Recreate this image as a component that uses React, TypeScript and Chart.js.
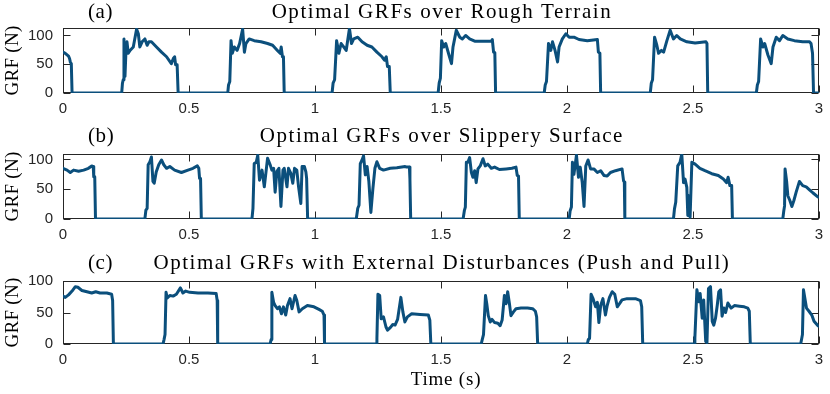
import React, { useEffect, useRef } from 'react';
import { Chart, registerables } from 'chart.js';

Chart.register(...registerables);

// ---------- data ----------
const timeA = [0, 0.009, 0.022, 0.026, 0.029, 0.033, 0.036, 0.233, 0.236, 0.239, 0.242, 0.246, 0.25, 0.254, 0.259, 0.266, 0.279, 0.292, 0.299, 0.305, 0.314, 0.325, 0.334, 0.341, 0.351, 0.371, 0.391, 0.411, 0.43, 0.438, 0.443, 0.447, 0.453, 0.457,
  0.654, 0.657, 0.662, 0.667, 0.672, 0.68, 0.691, 0.701, 0.713, 0.72, 0.726, 0.739, 0.759, 0.786, 0.812, 0.832, 0.851, 0.862, 0.866, 0.871, 0.875, 0.878,
  1.068, 1.072, 1.078, 1.086, 1.095, 1.104, 1.114, 1.124, 1.137, 1.145, 1.154, 1.17, 1.187, 1.207, 1.226, 1.246, 1.266, 1.276, 1.283, 1.288, 1.295, 1.299,
  1.489, 1.493, 1.498, 1.503, 1.511, 1.519, 1.532, 1.542, 1.548, 1.553, 1.561, 1.568, 1.575, 1.585, 1.598, 1.614, 1.634, 1.667, 1.7, 1.704, 1.709, 1.714, 1.717,
  1.91, 1.914, 1.919, 1.927, 1.936, 1.943, 1.953, 1.963, 1.969, 1.982, 1.996, 2.009, 2.028, 2.048, 2.081, 2.121, 2.125, 2.131, 2.134,
  2.331, 2.335, 2.34, 2.348, 2.357, 2.364, 2.375, 2.384, 2.397, 2.41, 2.423, 2.436, 2.45, 2.476, 2.509, 2.552, 2.556, 2.559,
  2.752, 2.756, 2.761, 2.769, 2.778, 2.785, 2.798, 2.811, 2.818, 2.831, 2.844, 2.857, 2.877, 2.903, 2.936, 2.963, 2.969, 2.975, 2.979, 3.0];
const grfA = [71, 69, 64, 60, 54, 51, 0, 0, 17, 23, 94, 29, 74, 89, 69, 74, 80, 111, 103, 80, 89, 94, 83, 89, 89, 80, 71, 63, 51, 60, 63, 49, 49, 0,
  0, 14, 20, 91, 69, 80, 74, 86, 111, 71, 86, 94, 91, 89, 86, 83, 74, 69, 80, 63, 63, 0,
  0, 17, 23, 91, 69, 86, 80, 74, 112, 86, 94, 97, 89, 83, 80, 71, 63, 57, 63, 46, 46, 0,
  0, 17, 26, 91, 80, 86, 66, 51, 80, 91, 109, 103, 97, 94, 100, 94, 90, 90, 90, 93, 71, 70, 0,
  0, 14, 20, 86, 74, 89, 74, 54, 80, 94, 103, 97, 97, 93, 91, 93, 71, 69, 0,
  0, 17, 23, 97, 83, 69, 74, 71, 91, 109, 94, 100, 94, 89, 87, 89, 86, 0,
  0, 14, 20, 94, 80, 86, 66, 51, 80, 97, 91, 100, 94, 91, 89, 89, 86, 69, 0, 0];

const timeB = [0, 0.016, 0.029, 0.042, 0.062, 0.082, 0.101, 0.114, 0.12, 0.122, 0.126, 0.129,
  0.325, 0.329, 0.334, 0.338, 0.345, 0.351, 0.357, 0.362, 0.37, 0.38, 0.391, 0.4, 0.411, 0.424, 0.443, 0.47, 0.496, 0.516, 0.533, 0.539, 0.542, 0.546, 0.549,
  0.75, 0.754, 0.759, 0.767, 0.773, 0.78, 0.79, 0.799, 0.812, 0.823, 0.829, 0.836, 0.842, 0.849, 0.857, 0.865, 0.873, 0.878, 0.889, 0.895, 0.904, 0.912, 0.919, 0.928, 0.935, 0.944, 0.949, 0.958, 0.964, 0.967, 0.971,
  1.164, 1.17, 1.175, 1.18, 1.187, 1.193, 1.2, 1.207, 1.214, 1.222, 1.23, 1.238, 1.246, 1.257, 1.272, 1.299, 1.325, 1.358, 1.364, 1.375, 1.377, 1.38,
  1.588, 1.593, 1.597, 1.601, 1.607, 1.614, 1.621, 1.627, 1.634, 1.64, 1.647, 1.656, 1.667, 1.676, 1.686, 1.7, 1.713, 1.732, 1.759, 1.782, 1.798, 1.803, 1.808, 1.811,
  2.009, 2.013, 2.018, 2.022, 2.028, 2.038, 2.046, 2.053, 2.061, 2.068, 2.075, 2.084, 2.094, 2.107, 2.121, 2.134, 2.147, 2.16, 2.173, 2.193, 2.219, 2.225, 2.228, 2.23,
  2.423, 2.427, 2.432, 2.44, 2.449, 2.456, 2.463, 2.469, 2.476, 2.48, 2.484, 2.489, 2.496, 2.509, 2.528, 2.548, 2.575, 2.601, 2.621, 2.634, 2.64, 2.647, 2.654, 2.657,
  2.857, 2.861, 2.864, 2.866, 2.872, 2.877, 2.885, 2.893, 2.901, 2.91, 2.923, 2.936, 2.95, 2.963, 2.976, 2.996, 3.0];
const grfB = [85, 82, 78, 82, 80, 82, 85, 89, 88, 71, 71, 0,
  0, 15, 18, 91, 96, 104, 63, 60, 79, 91, 99, 91, 85, 88, 82, 78, 82, 85, 89, 85, 68, 68, 0,
  0, 18, 93, 95, 107, 65, 82, 54, 102, 90, 82, 85, 45, 80, 85, 21, 82, 85, 54, 85, 77, 60, 85, 82, 54, 26, 88, 88, 79, 68, 0,
  0, 18, 23, 93, 99, 106, 74, 88, 63, 11, 51, 85, 96, 85, 82, 85, 86, 88, 87, 87, 67, 0,
  0, 14, 20, 95, 95, 103, 78, 70, 81, 61, 84, 89, 101, 89, 92, 85, 87, 83, 84, 85, 87, 73, 72, 0,
  0, 14, 20, 95, 75, 107, 70, 87, 61, 21, 89, 99, 84, 84, 78, 81, 73, 72, 78, 81, 84, 64, 62, 0,
  0, 17, 28, 89, 95, 109, 61, 67, 53, 6, 39, 3, 95, 92, 85, 81, 76, 73, 67, 61, 70, 56, 56, 0,
  0, 14, 22, 84, 64, 39, 31, 21, 31, 45, 63, 56, 54, 49, 44, 37, 37];

const timeC = [0, 0.009, 0.022, 0.036, 0.049, 0.059, 0.075, 0.095, 0.114, 0.13, 0.147, 0.174, 0.193, 0.197, 0.2,
  0.397, 0.401, 0.405, 0.409, 0.414, 0.424, 0.437, 0.45, 0.466, 0.476, 0.487, 0.503, 0.536, 0.575, 0.608, 0.612, 0.614,
  0.822, 0.826, 0.829, 0.836, 0.842, 0.851, 0.859, 0.867, 0.875, 0.884, 0.891, 0.901, 0.909, 0.921, 0.928, 0.937, 0.95, 0.97, 0.996, 1.016, 1.029, 1.036, 1.038,
  1.243, 1.246, 1.25, 1.257, 1.263, 1.272, 1.282, 1.288, 1.299, 1.309, 1.318, 1.328, 1.341, 1.349, 1.357, 1.367, 1.384, 1.417, 1.45, 1.456, 1.46,
  1.66, 1.664, 1.669, 1.677, 1.682, 1.688, 1.696, 1.703, 1.713, 1.726, 1.735, 1.743, 1.752, 1.759, 1.765, 1.772, 1.778, 1.788, 1.798, 1.818, 1.844, 1.864, 1.875, 1.88, 1.884,
  2.081, 2.085, 2.09, 2.096, 2.103, 2.114, 2.121, 2.127, 2.134, 2.143, 2.153, 2.16, 2.169, 2.18, 2.19, 2.2, 2.209, 2.219, 2.239, 2.272, 2.292, 2.297, 2.301,
  2.505, 2.508, 2.516, 2.524, 2.529, 2.537, 2.543, 2.551, 2.556, 2.562, 2.57, 2.577, 2.583, 2.59, 2.597, 2.603, 2.61, 2.616, 2.623, 2.63, 2.639, 2.652, 2.665, 2.685, 2.704, 2.718, 2.724, 2.728,
  2.928, 2.935, 2.939, 2.951, 2.961, 2.972, 2.981, 2.994, 3.0];
const grfC = [76, 74, 78, 84, 91, 90, 85, 83, 81, 83, 81, 81, 79, 69, 0,
  0, 7, 15, 82, 73, 77, 76, 79, 89, 81, 84, 82, 81, 81, 80, 69, 0,
  0, 7, 82, 66, 61, 56, 59, 48, 59, 46, 61, 72, 56, 77, 69, 51, 56, 61, 59, 55, 52, 46, 0,
  0, 9, 79, 77, 40, 43, 27, 22, 26, 31, 30, 39, 74, 51, 35, 43, 48, 47, 46, 38, 0,
  0, 7, 15, 77, 64, 45, 35, 39, 34, 33, 29, 38, 77, 64, 83, 64, 45, 51, 56, 57, 57, 56, 52, 43, 0,
  0, 7, 9, 79, 73, 59, 66, 34, 61, 72, 46, 61, 74, 83, 79, 59, 64, 70, 72, 72, 69, 59, 0,
  0, 10, 86, 67, 80, 41, 70, 4, 2, 88, 91, 36, 30, 41, 62, 83, 86, 44, 57, 50, 65, 57, 61, 60, 59, 57, 52, 0,
  0, 15, 86, 57, 52, 46, 36, 30, 28];

const xTickValues = [0, 0.5, 1, 1.5, 2, 2.5, 3];
const yTickValues = [0, 50, 100];
const panelTags = ['(a)', '(b)', '(c)'];
const panelTitles = [
  'Optimal GRFs over Rough Terrain',
  'Optimal GRFs over Slippery Surface',
  'Optimal GRFs with External Disturbances (Push and Pull)',
];
const yMaxValues = [113, 109, 100];
const yLabel = 'GRF (N)';
const xLabel = 'Time (s)';

// ---------- styles ----------
const LINE_COLOR = '#0B4F7C';
const AXIS_COLOR = '#262626';
const SERIF = '"Liberation Serif", "DejaVu Serif", serif';
const SANS = '"Liberation Sans", Arial, sans-serif';

type PanelProps = {
  index: number;
  times: number[];
  values: number[];
  top: number;
  height: number;
  padTop: number;
  xAxisHeight: number;
  titleBaseline: number;
  showXLabel: boolean;
};

function Panel(props: PanelProps) {
  const ref = useRef<HTMLCanvasElement | null>(null);
  useEffect(() => {
    const canvas = ref.current;
    if (!canvas) return;
    const { index, times, values, padTop, xAxisHeight, titleBaseline, showXLabel } = props;
    const data = times.map((t, i) => ({ x: t, y: values[i] }));

    const decor = {
      id: 'decor' + index,
      beforeDatasetsDraw(chart: any) {
        const { ctx, chartArea: a, scales } = chart;
        ctx.save();
        ctx.strokeStyle = AXIS_COLOR;
        ctx.lineWidth = 1;
        const l = Math.round(a.left) + 0.5;
        const r = Math.round(a.right) - 0.5;
        const t = Math.round(a.top) + 0.5;
        const b = Math.round(a.bottom) - 0.5;
        ctx.strokeRect(l, t, r - l, b - t);
        const tl = 7;
        ctx.beginPath();
        for (const v of xTickValues) {
          const px = Math.round(scales.x.getPixelForValue(v)) + 0.5;
          ctx.moveTo(px, b);
          ctx.lineTo(px, b - tl);
          ctx.moveTo(px, t);
          ctx.lineTo(px, t + tl);
        }
        for (const v of yTickValues) {
          const py = Math.round(scales.y.getPixelForValue(v)) + 0.5;
          ctx.moveTo(l, py);
          ctx.lineTo(l + tl, py);
          ctx.moveTo(r, py);
          ctx.lineTo(r - tl, py);
        }
        ctx.stroke();
        ctx.restore();
      },
      afterDraw(chart: any) {
        const { ctx, chartArea: a } = chart;
        ctx.save();
        ctx.fillStyle = '#000';
        ctx.font = '21px ' + SERIF;
        ctx.textBaseline = 'alphabetic';
        ctx.textAlign = 'left';
        (ctx as any).letterSpacing = '0.6px';
        ctx.fillText(panelTags[index], 88, titleBaseline);
        ctx.textAlign = 'center';
        (ctx as any).letterSpacing = '1.55px';
        ctx.fillText(panelTitles[index], (a.left + a.right) / 2 + 1, titleBaseline);
        // y label
        ctx.save();
        ctx.translate(18, (a.top + a.bottom) / 2);
        ctx.rotate(-Math.PI / 2);
        ctx.font = '19px ' + SERIF;
        (ctx as any).letterSpacing = '0.3px';
        ctx.textAlign = 'center';
        ctx.fillText(yLabel, 0, 0);
        ctx.restore();
        if (showXLabel) {
          ctx.font = '19px ' + SERIF;
          (ctx as any).letterSpacing = '0.8px';
          ctx.textAlign = 'center';
          ctx.fillText(xLabel, 446, 135);
        }
        ctx.restore();
      },
    };

    const chart = new Chart(canvas, {
      type: 'line',
      data: {
        datasets: [
          {
            data,
            borderColor: LINE_COLOR,
            borderWidth: 3,
            pointRadius: 0,
            tension: 0,
            fill: false,
            borderJoinStyle: 'round',
            borderCapStyle: 'round',
          } as any,
        ],
      },
      options: {
        responsive: false,
        animation: false,
        events: [],
        layout: { padding: { top: padTop, right: 7, left: 0, bottom: 0 } },
        plugins: {
          legend: { display: false },
          tooltip: { enabled: false },
          title: { display: false },
        },
        scales: {
          x: {
            type: 'linear',
            min: 0,
            max: 3,
            afterBuildTicks: (s: any) => {
              s.ticks = xTickValues.map((v) => ({ value: v }));
            },
            afterFit: (s: any) => {
              s.height = xAxisHeight;
            },
            grid: { display: false, drawTicks: false },
            border: { display: false },
            ticks: {
              color: AXIS_COLOR,
              font: { family: SANS, size: 15 },
              padding: 7,
              maxRotation: 0,
              autoSkip: false,
              callback: (v: any) => String(v),
            },
          },
          y: {
            type: 'linear',
            min: 0,
            max: yMaxValues[index],
            afterBuildTicks: (s: any) => {
              s.ticks = yTickValues.map((v) => ({ value: v }));
            },
            afterFit: (s: any) => {
              s.width = 63;
            },
            grid: { display: false, drawTicks: false },
            border: { display: false },
            ticks: {
              color: AXIS_COLOR,
              font: { family: SANS, size: 15 },
              padding: 10,
              callback: (v: any) => String(v),
            },
          },
        },
      },
      plugins: [decor],
    });
    return () => chart.destroy();
  }, []);

  return (
    <canvas
      ref={ref}
      width={830}
      height={props.height}
      style={{ position: 'absolute', left: 0, top: props.top, width: 830, height: props.height, display: 'block' }}
    />
  );
}

export default function App() {
  return (
    <div style={{ position: 'absolute', left: 0, top: 0, width: 830, height: 394, background: '#fff', overflow: 'hidden' }}>
      <Panel index={0} times={timeA} values={grfA} top={0} height={125} padTop={28} xAxisHeight={32} titleBaseline={18} showXLabel={false} />
      <Panel index={1} times={timeB} values={grfB} top={125} height={125} padTop={29} xAxisHeight={31} titleBaseline={17} showXLabel={false} />
      <Panel index={2} times={timeC} values={grfC} top={250} height={144} padTop={31} xAxisHeight={50} titleBaseline={19} showXLabel={true} />
    </div>
  );
}
